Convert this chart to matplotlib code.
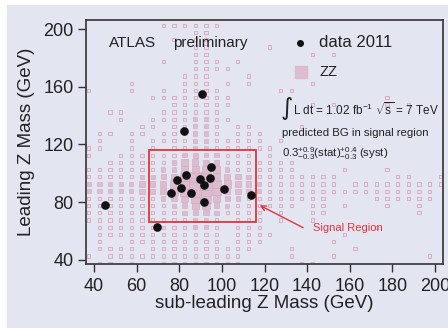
import matplotlib
matplotlib.use("Agg")
import matplotlib.pyplot as plt
from matplotlib.patches import Rectangle
import numpy as np

# ZZ expectation as a box histogram, 5 GeV bins starting at 35 GeV.
# rows go from the top bin (200-205 GeV) down to the bottom one (35-40 GeV),
# '.' = empty bin, digit = relative bin content
bin_lo = 35.0
bin_width = 5.0
zz_rows = [
    ".......111" "111......." ".........." "....",
    ".........." "11........" ".........." "....",
    "........1." "11........" ".........." "....",
    ".........." "11.....1.." ".........." "....",
    ".........." "11........" ".1.1......" "....",
    ".......1.." "111.1....." ".........." "....",
    ".........." "1111......" ".........." "....",
    ".........1" "11...1...." ".........." "....",
    "....1....1" "11.1.1...." ".1........" "....",
    "1...1..1.1" "111.....11" ".........." "....",
    "......1111" "1111......" "........1." "....",
    "........11" "1111......" ".1.1....1." "1...",
    "..11...111" "111......." ".........." "....",
    "...1..1111" "2211......" ".........." "....",
    ".....11.11" "221.11...." "1........." "....",
    ".11.11.111" "221.111..." ".........." "....",
    ".1..1.1111" "2211111.1." ".........." "....",
    "11..1.1.11" "22111111.." ".........." "....",
    "1..1111112" "322111.1.." ".........." "....",
    "..11111124" "4321111111" ".........." "....",
    "1111111225" "5542111111" "....1...1." "....",
    "1111122346" "8754321111" "1111.....1" "1..1",
    "2222233457" "9965432111" "1111.11111" "1111",
    "2222233457" "9864322111" "1111111111" "111.",
    "1111111235" "7753211111" "111....111" "111.",
    "1111111123" "5532111111" ".11.1...1." ".1..",
    "1111111112" "3321111.1." ".11......." ".1..",
    "1111111111" "221.111.1." ".1........" "....",
    ".111111111" "221.111..." ".......1.." "....",
    ".111111111" "111.1111.." "....1....." "....",
    ".1..111111" "111.111..." "...1......" "....",
    ".1111.1111" "111111...1" ".....1...." "....",
    "1.11111111" "11111....1" "...1......" "..1.",
    ".11.1..111" "11111....." "11........" "....",
]

# data 2011 candidates: (sub-leading, leading) Z mass in GeV
data_sub = [45, 69.5, 76, 79, 81, 82, 83, 85.5, 89.5, 90.5, 91.5, 91.5, 94.5, 95, 101, 113.5]
data_lead = [78, 63, 86, 95, 90, 129, 98.5, 86, 96, 155, 91.5, 80, 97, 104.5, 89, 85]

signal_lo, signal_hi = 66, 116
arrow_tip = (116.6, 78.6)
arrow_tail = (139.3, 61.3)

bg = "#e3e5f1"
box_edge = "#d2a8bf"
box_light = "#ecdde8"
box_fill = "#dcbdcf"
red = "#e5333a"
ink = "#222222"

plt.rcParams["font.family"] = ["Liberation Sans", "DejaVu Sans"]
plt.rcParams["mathtext.fontset"] = "custom"
plt.rcParams["mathtext.rm"] = "Liberation Sans"
plt.rcParams["mathtext.it"] = "Liberation Sans"

fig = plt.figure(figsize=(4.48, 3.28), dpi=100, facecolor="white")
fig.patches.append(Rectangle((7 / 448, 0), 1 - 7 / 448, 1 - 5 / 328,
                             transform=fig.transFigure, color=bg, zorder=-5))
ax = fig.add_axes([86 / 448, 64 / 328, 357 / 448, 244 / 328])
ax.set_facecolor(bg)

grid = np.array([[0 if c == "." else int(c) for c in row] for row in zz_rows[::-1]])
xc = bin_lo + bin_width * (np.arange(grid.shape[1]) + 0.5)
yc = bin_lo + bin_width * (np.arange(grid.shape[0]) + 0.5)
jj, ii = np.nonzero(grid)
lev = grid[jj, ii]
side_pt = (3.2 + (lev - 1) * 1.05) * 72 / 100

small = lev == 1
ax.scatter(xc[ii[small]], yc[jj[small]], s=side_pt[small] ** 2, marker="s",
           facecolor=box_light, edgecolor=box_edge, linewidths=0.6, zorder=2)
big = ~small
ax.scatter(xc[ii[big]], yc[jj[big]], s=side_pt[big] ** 2, marker="s",
           facecolor=box_fill, edgecolor=box_edge, linewidths=0.4, zorder=2)

ax.add_patch(Rectangle((signal_lo, signal_lo), signal_hi - signal_lo, signal_hi - signal_lo,
                       fill=False, edgecolor=red, linewidth=1.3, zorder=3))
ax.annotate("", xy=arrow_tip, xytext=arrow_tail,
            arrowprops=dict(arrowstyle="->", color=red, lw=1.0, mutation_scale=9), zorder=3)
ax.text(0.636, 0.146, "Signal Region", transform=ax.transAxes, color=red,
        fontsize=8, ha="left", va="center", zorder=4)

ax.plot(data_sub, data_lead, "o", color="#111111", markersize=5.2, zorder=5)

# labels and legend
ax.text(0.0636, 0.906, "ATLAS", transform=ax.transAxes, fontsize=11,
        family=["Liberation Sans Narrow", "Liberation Sans"], ha="left", va="center", color=ink)
ax.text(0.2445, 0.906, "preliminary", transform=ax.transAxes, fontsize=11,
        ha="left", va="center", color=ink)
ax.scatter([0.599], [0.907], s=16, color="#111111", transform=ax.transAxes, clip_on=False, zorder=5)
ax.text(0.653, 0.906, "data 2011", transform=ax.transAxes, fontsize=12,
        ha="left", va="center", color=ink)
ax.scatter([0.602], [0.787], s=82, marker="s", color=box_fill, transform=ax.transAxes,
           clip_on=False, zorder=5)
ax.text(0.653, 0.787, "ZZ", transform=ax.transAxes, fontsize=10.5,
        ha="left", va="center", color=ink)
ax.text(0.546, 0.639, "\u222b", transform=ax.transAxes, fontsize=17,
        family="DejaVu Sans", ha="left", va="center", color=ink)
ax.text(0.58, 0.633, r"L dt = 1.02 fb$^{-1}$ $\sqrt{s}$ = 7 TeV", transform=ax.transAxes,
        fontsize=8.5, ha="left", va="center", color=ink)
ax.text(0.549, 0.537, "predicted BG in signal region", transform=ax.transAxes,
        fontsize=8.2, ha="left", va="center", color=ink)
ax.text(0.549, 0.452, r"0.3$^{+0.9}_{-0.3}$(stat)$^{+0.4}_{-0.3}$ (syst)",
        transform=ax.transAxes, fontsize=8.2, ha="left", va="center", color=ink)

ax.set_xlim(36.2, 203.8)
ax.set_ylim(37.0, 206.3)
ax.set_xticks(range(40, 201, 20))
ax.set_yticks(range(40, 201, 40))
ax.tick_params(direction="out", length=6, width=1.0, color="#333333",
               labelsize=13, labelcolor=ink)
ax.tick_params(axis="x", pad=4)
ax.tick_params(axis="y", pad=3)
for sp in ax.spines.values():
    sp.set_color("#333333")
    sp.set_linewidth(1.2)

ax.set_xlabel("sub-leading Z Mass (GeV)", fontsize=13.5, color=ink)
ax.set_ylabel("Leading Z Mass (GeV)", fontsize=13.5, color=ink)
ax.xaxis.set_label_coords(0.5, -0.128)
ax.yaxis.set_label_coords(-0.143, 0.5)

fig.savefig("out.png", dpi=100, facecolor=fig.get_facecolor())
